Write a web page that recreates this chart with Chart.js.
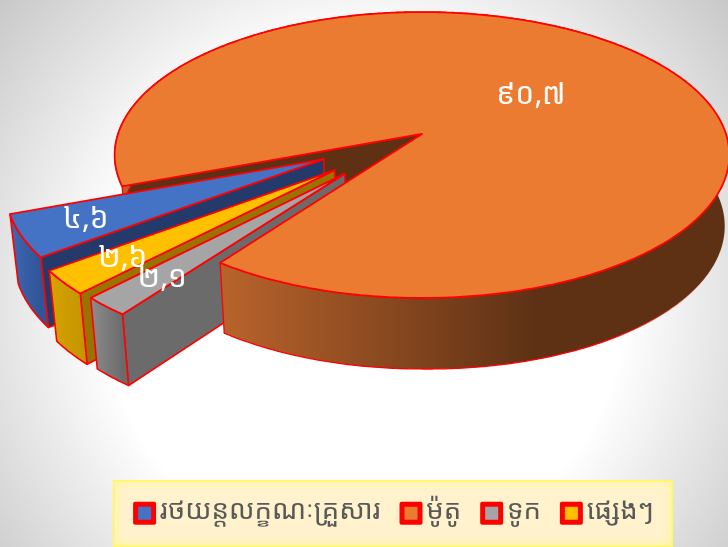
<!DOCTYPE html>
<html><head><meta charset="utf-8">
<script src="https://cdn.jsdelivr.net/npm/chart.js@4/dist/chart.umd.min.js"></script>
<style>
html,body{margin:0;padding:0;width:728px;height:547px;overflow:hidden;
background:radial-gradient(circle 480px at 364px 300px,#ffffff 0%,#ffffff 54%,#c6c6c6 100%);}
canvas{display:block}
</style></head><body>
<canvas id="c" width="728" height="547"></canvas>
<script>
const categories = ['រថយន្តលក្ខណៈគ្រួសារ', 'ម៉ូតូ', 'ទូក', 'ផ្សេងៗ'];
const shares = [4.6, 90.7, 2.1, 2.6];
const shareLabels = ['៤,៦', '៩០,៧', '២,១', '២,៦'];

const faceColors = ['#4472c4', '#eb7b31', '#a5a5a5', '#ffc000'];
const radialWall = ['#243a6a', '#5e3115', '#6b6b6b', '#997300'];
const outerWallFrom = ['#3f68b2', '#b8632b', '#8c8c8c', '#d6a200'];
const outerWallTo = ['#2f5597', '#5e3115', '#6b6b6b', '#c59600'];
const explode = [0.36, 0, 0.365, 0.372];
const explodeTurn = [0, 0, 0.04, 0];
const labelRadius = [0.8, 0.47, 0.8, 0.8];
const FONT = '"Noto Sans Khmer","Khmer OS","Noto Sans","DejaVu Sans",sans-serif';

// perspective of the pie's plane
const cam = {cx:422, cy:134, bx:304, ay:139.9, k:-0.147};
function proj(u, v){ const d = 1 + cam.k*v; return {x:cam.cx + cam.bx*u/d, y:cam.cy + cam.ay*v/d}; }
function drop(p){
  const right = p.x > cam.cx;
  return {x:cam.cx + (p.x-cam.cx)*(right?0.985:0.98),
          y:p.y + 69 + 0.02*(p.y-200) + (right?(p.x-cam.cx)*0.01:0)};
}
function poly(ctx, pts){ ctx.beginPath(); pts.forEach((p,i)=> i?ctx.lineTo(p.x,p.y):ctx.moveTo(p.x,p.y)); ctx.closePath(); }

function geometry(a, i){
  const s=a.startAngle, e=a.endAngle, m=(s+e)/2, dir=m+explodeTurn[i];
  const ou=explode[i]*Math.cos(dir), ov=explode[i]*Math.sin(dir), rim=[];
  const n=Math.max(4,Math.ceil((e-s)/0.01));
  for(let k=0;k<=n;k++){ const t=s+(e-s)*k/n; rim.push(proj(ou+Math.cos(t),ov+Math.sin(t))); }
  return {apex:proj(ou,ov), rim};
}
function radialWallPath(ctx,i,g,stroke){
  poly(ctx,[g.apex,g.rim[0],drop(g.rim[0]),drop(g.apex)]);
  ctx.fillStyle=radialWall[i]; ctx.fill();
  if(stroke){ ctx.strokeStyle='#ff0000'; ctx.lineWidth=1.6; ctx.stroke(); }
}
function outerWallPath(ctx,i,rim){
  poly(ctx,rim.concat(rim.map(drop).reverse()));
  let grad, line='#ff0000';
  if(i===1){
    grad=ctx.createLinearGradient(222,0,535,0);
    line=ctx.createLinearGradient(600,0,715,0);
    line.addColorStop(0,'rgba(255,0,0,1)'); line.addColorStop(1,'rgba(255,0,0,0)');
  } else {
    const xs=rim.map(p=>p.x); grad=ctx.createLinearGradient(Math.min(...xs),0,Math.max(...xs),0);
  }
  grad.addColorStop(0,outerWallFrom[i]); grad.addColorStop(1,outerWallTo[i]);
  ctx.fillStyle=grad; ctx.fill();
  ctx.strokeStyle=line; ctx.lineWidth=i===1?1.3:1.6; ctx.stroke();
}
function topFace(ctx,a,g){
  poly(ctx,[g.apex].concat(g.rim));
  ctx.fillStyle=a.options.backgroundColor; ctx.fill();
  ctx.strokeStyle=a.options.borderColor; ctx.lineWidth=a.options.borderWidth; ctx.stroke();
}

const pie3d = {
  id:'pie3d',
  beforeDraw(chart){
    const ctx = chart.ctx, x=113, y=480, w=560, h=67;
    ctx.save();
    ctx.fillStyle='#fff2cc'; ctx.fillRect(x,y,w,h);
    ctx.beginPath(); ctx.rect(x,y,w,h); ctx.clip();
    ctx.strokeStyle='#fff85e'; ctx.lineWidth=3; ctx.shadowColor='#fff85e'; ctx.shadowBlur=9;
    ctx.strokeRect(x,y,w,h);
    ctx.restore();
  },
  beforeDatasetDraw(chart){
    const ctx = chart.ctx, arcs = chart.getDatasetMeta(0).data;
    const geo = arcs.map((a,i)=>geometry(a,i));
    const split = Math.round(geo[1].rim.length*0.3);
    ctx.save();
    ctx.lineJoin='round';
    radialWallPath(ctx,1,geo[1],false);
    outerWallPath(ctx,1,geo[1].rim.slice(0,split+1));
    [0,3,2].forEach(i=>{ radialWallPath(ctx,i,geo[i],true); outerWallPath(ctx,i,geo[i].rim); topFace(ctx,arcs[i],geo[i]); });
    outerWallPath(ctx,1,geo[1].rim.slice(split));
    topFace(ctx,arcs[1],geo[1]);
    ctx.fillStyle='#ffffff'; ctx.font='30px '+FONT; ctx.textAlign='center'; ctx.textBaseline='middle';
    [1,0,3,2].forEach(i=>{
      const a=arcs[i], m=(a.startAngle+a.endAngle)/2, r=explode[i]+labelRadius[i];
      const p=proj(r*Math.cos(m),r*Math.sin(m));
      ctx.fillText(shareLabels[i],p.x,p.y);
    });
    ctx.restore();
    return false;
  },
  afterDraw(chart){
    const ctx = chart.ctx, boxes = chart.legend.legendHitBoxes;
    ctx.save();
    boxes.forEach((b,i)=>{
      const x=b.left, y=b.top+b.height/2-9.5;
      ctx.beginPath(); ctx.roundRect(x,y,23,23,2);
      ctx.fillStyle='#ff0000'; ctx.fill();
      ctx.fillStyle=faceColors[i]; ctx.fillRect(x+5,y+5,13,13);
    });
    ctx.restore();
  }
};

new Chart(document.getElementById('c'),{
  type:'pie',
  data:{labels:categories,datasets:[{data:shares,backgroundColor:faceColors,borderColor:'#ff0000',borderWidth:1.8}]},
  options:{
    responsive:false,animation:false,
    rotation:232.7,
    layout:{padding:{left:59,bottom:12}},
    plugins:{
      tooltip:{enabled:false},
      legend:{position:'bottom',labels:{
        boxWidth:13,boxHeight:13,padding:19,color:'#595959',font:{family:FONT,size:27.5},
        generateLabels(chart){
          return categories.map((t,i)=>({text:t,fillStyle:'rgba(0,0,0,0)',strokeStyle:'rgba(0,0,0,0)',lineWidth:0,index:i,fontColor:'#595959'}));
        }
      }}
    }
  },
  plugins:[pie3d]
});
</script>
</body></html>
